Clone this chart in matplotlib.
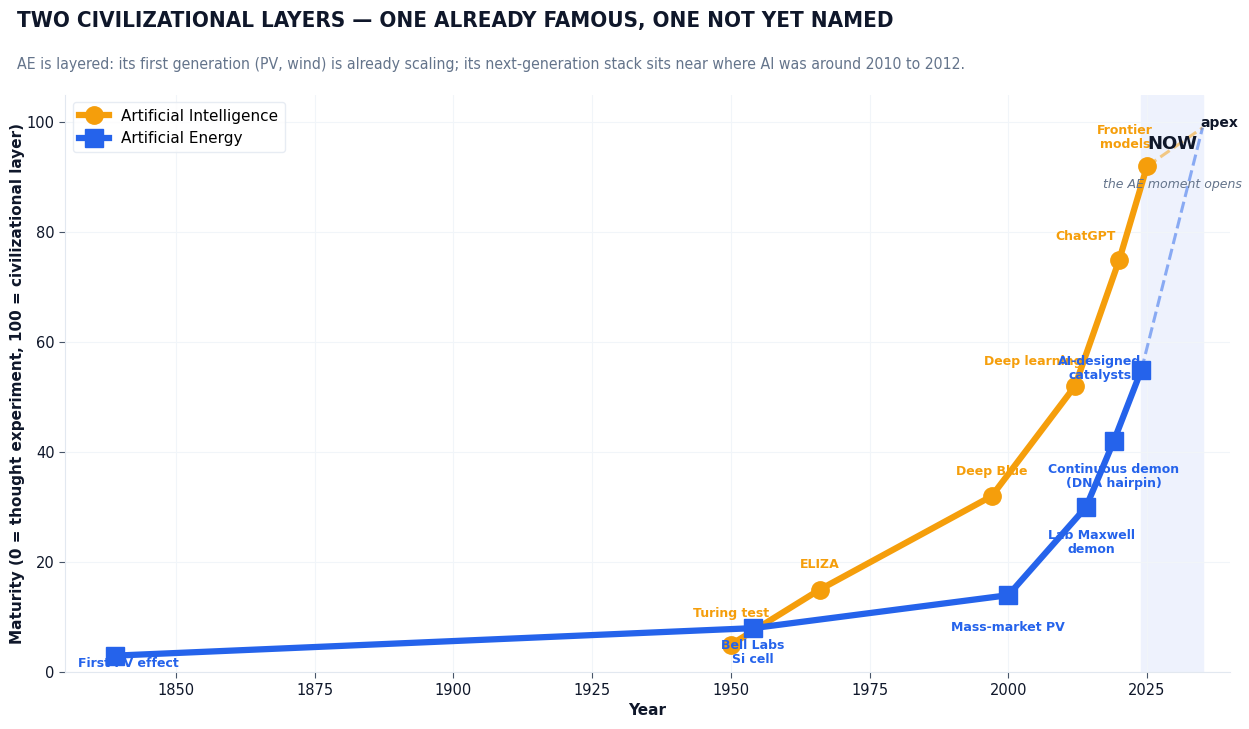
import matplotlib
matplotlib.use("Agg")
import matplotlib.pyplot as plt
from matplotlib import font_manager

# ---- data ----
ai_years = [1950, 1966, 1997, 2012, 2020, 2025]
ai_values = [5, 15, 32, 52, 75, 92]
ai_labels = ["Turing test", "ELIZA", "Deep Blue", "Deep learning", "ChatGPT", "Frontier\nmodels"]

ae_years = [1839, 1954, 2000, 2014, 2019, 2024]
ae_values = [3, 8, 14, 30, 42, 55]
ae_labels = ["First PV effect", "Bell Labs\nSi cell", "Mass-market PV", "Lab Maxwell\ndemon",
             "Continuous demon\n(DNA hairpin)", "AI-designed\ncatalysts"]

apex_year = 2035
apex_value = 99

# label positions (x, y) in data coords
ai_label_pos = [(1950, 10.6), (1966, 19.5), (1997, 36.4), (2004.5, 56.5), (2014, 79.2), (2021, 97.3)]
ae_label_pos = [(1841.5, 1.6), (1954, 3.6), (2000, 8.2), (2015, 23.5), (2019, 35.5), (2016.5, 55.3)]

AI_C = "#f59e0b"
AE_C = "#2563eb"
DARK = "#0f172a"
GREY = "#64748b"

names = {f.name for f in font_manager.fontManager.ttflist}
cond = "DejaVu Sans Condensed" in names or any(
    f.name == "DejaVu Sans" and f.stretch == "condensed" for f in font_manager.fontManager.ttflist)

fig = plt.figure(figsize=(12.49, 7.29), dpi=100)
ax = fig.add_axes([0.052, 0.078, 0.933, 0.792])

ax.axvspan(2024, 2035, color="#eef2fd", zorder=0)

for lab, (x, y) in zip(ai_labels, ai_label_pos):
    ax.text(x, y, lab, color=AI_C, fontsize=9, fontweight="bold", ha="center", va="center",
            linespacing=1.1, zorder=2)

ax.plot(ai_years, ai_values, color=AI_C, lw=4.5, marker="o", ms=12.5, label="Artificial Intelligence", zorder=3)
ax.plot([ai_years[-1], apex_year], [ai_values[-1], apex_value], color=AI_C, lw=2.2, ls="--",
        alpha=0.5, zorder=3)

for lab, (x, y) in zip(ae_labels, ae_label_pos):
    ax.text(x, y, lab, color=AE_C, fontsize=9, fontweight="bold", ha="center", va="center",
            linespacing=1.1, zorder=4)

ax.plot(ae_years, ae_values, color=AE_C, lw=4.5, marker="s", ms=13, label="Artificial Energy", zorder=5)
ax.plot([ae_years[-1], apex_year], [ae_values[-1], apex_value], color=AE_C, lw=2.2, ls="--",
        alpha=0.5, zorder=5)

ax.text(2029.5, 96, "NOW", color=DARK, fontsize=13, fontweight="bold", ha="center", va="center", zorder=6)
ax.text(2038, 99.8, "apex", color=DARK, fontsize=10, fontweight="bold", ha="center", va="center", zorder=6)
ax.text(2029.5, 88.7, "the AE moment opens", color=GREY, fontsize=9, style="italic", ha="center",
        va="center", zorder=6)

ax.set_xlim(1830, 2040)
ax.set_ylim(0, 105)
ax.set_xticks([1850, 1875, 1900, 1925, 1950, 1975, 2000, 2025])
ax.set_yticks([0, 20, 40, 60, 80, 100])
ax.grid(True, color="#f1f5f9", lw=0.8, zorder=0)
ax.set_axisbelow(True)
for s in ["top", "right"]:
    ax.spines[s].set_visible(False)
for s in ["left", "bottom"]:
    ax.spines[s].set_color("#e2e8f0")
ax.tick_params(colors="#475569", labelcolor=DARK, labelsize=10.5, length=4)

ax.set_xlabel("Year", fontsize=11, fontweight="bold", color=DARK)
ax.set_ylabel("Maturity (0 = thought experiment, 100 = civilizational layer)", fontsize=11,
              fontweight="bold", color=DARK, labelpad=1)

leg = ax.legend(loc="upper left", fontsize=11, frameon=True, edgecolor="#e2e8f0")

if cond:
    tkw = dict(fontsize=16, fontstretch="condensed")
    skw = dict(fontsize=11.3, fontstretch="condensed")
else:
    tkw = dict(fontsize=14.5)
    skw = dict(fontsize=10.2)

fig.text(0.014, 0.985, "TWO CIVILIZATIONAL LAYERS \u2014 ONE ALREADY FAMOUS, ONE NOT YET NAMED",
         fontweight="bold", color=DARK, ha="left", va="top", **tkw)
fig.text(0.014, 0.912, "AE is layered: its first generation (PV, wind) is already scaling; its next-generation "
         "stack sits near where AI was around 2010 to 2012.", color=GREY, ha="left", va="center", **skw)

fig.savefig("out.png", dpi=100, facecolor="white")
